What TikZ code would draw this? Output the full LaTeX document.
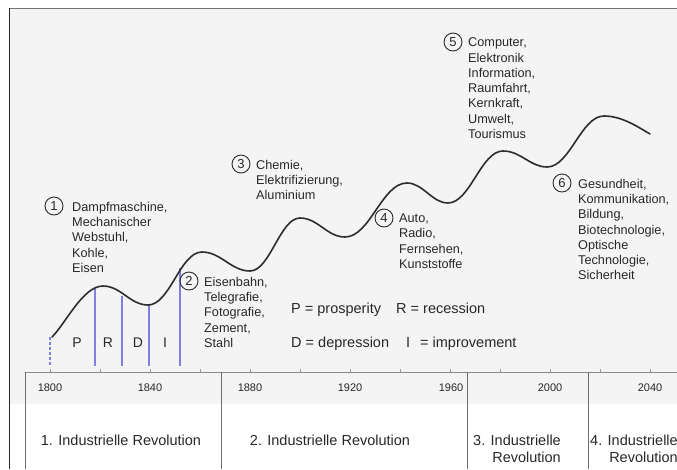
\documentclass[tikz,border=0pt]{standalone}
\usepackage{fontspec}
\setmainfont{Liberation Sans}
\definecolor{bgg}{RGB}{244,244,244}
\definecolor{txt}{RGB}{40,40,40}
\definecolor{crv}{RGB}{45,45,45}
\definecolor{blu}{RGB}{128,128,225}
\definecolor{sepc}{RGB}{110,110,110}
\begin{document}
\begin{tikzpicture}[x=1pt,y=-1pt,
  item/.style={anchor=north west, inner sep=0pt, align=left, text=txt, font=\fontsize{12.7}{15.3}\selectfont},
  num/.style={circle, draw=crv, line width=0.9pt, minimum size=18pt, inner sep=0pt, text=txt, font=\fontsize{13}{13}\selectfont},
  leg/.style={anchor=base west, inner sep=0pt, text=txt, font=\fontsize{14.5}{17}\selectfont},
  phase/.style={anchor=base, inner sep=0pt, text=txt, font=\fontsize{14}{17}\selectfont},
  year/.style={anchor=base, inner sep=0pt, text=txt, font=\fontsize{11}{13}\selectfont},
  rev/.style={inner sep=0pt, text=txt, font=\fontsize{14.5}{17}\selectfont},
  bline/.style={draw=blu, line width=1.2pt},
]
\useasboundingbox (0,0) rectangle (677,469);
\fill[white] (0,0) rectangle (677,469);
\fill[bgg] (9,8) rectangle (677,404);
\draw[black!55, line width=1.5pt] (9,8.5) -- (677,8.5);
\draw[black!85, line width=1.3pt] (9.5,8) -- (9.5,469);
% axis
\draw[sepc!80, line width=0.8pt] (25,372) -- (677,372);
\foreach \x in {50,100,...,650} \draw[sepc!70, line width=0.6pt] (\x,369) -- (\x,372);
\foreach \x in {25,221,467,588} \draw[sepc, line width=1pt] (\x,372) -- (\x,469);
% years
\node[year] (y1800) at (50,391) {1800};
\node[year] (y1840) at (150,391) {1840};
\node[year] (y1880) at (250,391) {1880};
\node[year] (y1920) at (350,391) {1920};
\node[year] (y1960) at (451,391) {1960};
\node[year] (y2000) at (550,391) {2000};
\node[year] (y2040) at (650,391) {2040};
% revolutions
\node[rev, anchor=base] (r1) at (121,445) {1. Industrielle Revolution};
\node[rev, anchor=base] (r2) at (330,445) {2. Industrielle Revolution};
\node[rev, anchor=base east] (r3a) at (561,445) {3. Industrielle};
\node[rev, anchor=base east] (r3b) at (561,462) {Revolution};
\node[rev, anchor=base west] (r4a) at (590,445) {4. Industrielle};
\node[rev, anchor=base east] (r4b) at (r4a.base east) [yshift=-17pt] {Revolution};
% blue phase lines
\draw[bline, dash pattern=on 3pt off 2pt] (50,337) -- (50,367);
\draw[bline] (95,288) -- (95,366);
\draw[bline] (122,296) -- (122,366);
\draw[bline] (149,305) -- (149,366);
\draw[bline] (180,268) -- (180,366);
\node[phase] (pP) at (77,347) {P};
\node[phase] (pR) at (108,347) {R};
\node[phase] (pD) at (138,347) {D};
\node[phase] (pI) at (165,347) {I};
% legend
\node[leg] (l1) at (291,313) {P = prosperity};
\node[leg] (l2) at (396,313) {R = recession};
\node[leg] (l3) at (291,347) {D = depression};
\node[leg] (l4) at (406,347) {I};
\node[leg] (l5) at (420,347) {= improvement};
% curve
\draw[crv, line width=1.6pt, line cap=round]
  (52,337) .. controls (66,323) and (83,286) .. (103,286)
  .. controls (121,286) and (130,305) .. (148,305)
  .. controls (170,305) and (180,252) .. (202,252)
  .. controls (221,252) and (231,271) .. (250,271)
  .. controls (270,271) and (280,218) .. (300,218)
  .. controls (318,218) and (327,237) .. (345,237)
  .. controls (370,237) and (382,183) .. (407,183)
  .. controls (423,183) and (432,203) .. (448,203)
  .. controls (470,203) and (481,151) .. (503,151)
  .. controls (521,151) and (530,167) .. (547,167)
  .. controls (570,167) and (581,116) .. (604,116)
  .. controls (622,116) and (638,127) .. (650,134);
% numbered items
\node[num] (n1) at (54,206) {1};
\node[item] (t1) at (72,201.7) {Dampfmaschine,\\Mechanischer\\Webstuhl,\\Kohle,\\Eisen};
\node[num] (n2) at (189,281) {2};
\node[item] (t2) at (204,276.7) {Eisenbahn,\\Telegrafie,\\Fotografie,\\Zement,\\Stahl};
\node[num] (n3) at (241,164) {3};
\node[item] (t3) at (256,159.7) {Chemie,\\Elektrifizierung,\\Aluminium};
\node[num] (n4) at (384,218) {4};
\node[item] (t4) at (399,213.7) {Auto,\\Radio,\\Fernsehen,\\Kunststoffe};
\node[num] (n5) at (453,42) {5};
\node[item] (t5) at (468,37.7) {Computer,\\Elektronik\\Information,\\Raumfahrt,\\Kernkraft,\\Umwelt,\\Tourismus};
\node[num] (n6) at (562,183) {6};
\node[item] (t6) at (578,178.7) {Gesundheit,\\Kommunikation,\\Bildung,\\Biotechnologie,\\Optische\\Technologie,\\Sicherheit};
\end{tikzpicture}
\end{document}
